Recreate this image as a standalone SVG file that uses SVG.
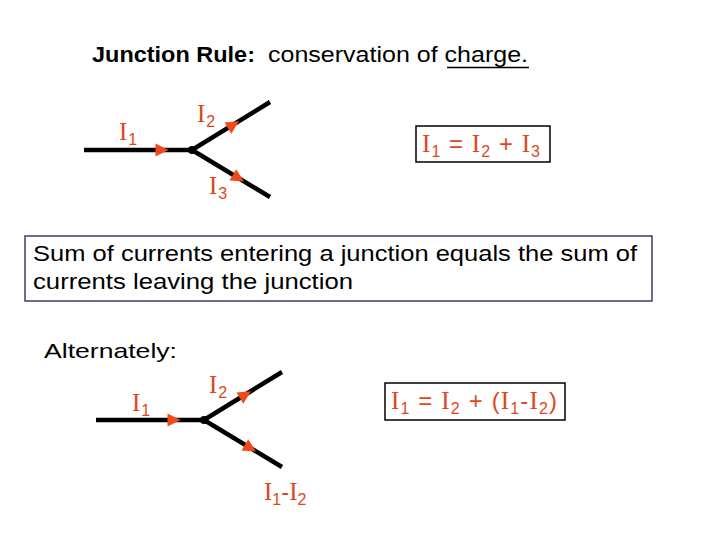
<svg xmlns="http://www.w3.org/2000/svg" xmlns:xlink="http://www.w3.org/1999/xlink" width="720" height="540" viewBox="0 0 720 540">
<style>
.t{font-family:"Liberation Sans",Arial,sans-serif;fill:#000}
.r{font-family:"Liberation Sans",Arial,sans-serif;fill:#E0461E;font-size:24px}
.i{font-family:"Liberation Serif","Times New Roman",serif;font-size:25px}
.s{font-size:16px}
.w{stroke:#000;stroke-width:4.5;fill:none;stroke-linecap:butt}
.a{fill:#F04A1A}
.box{fill:#fff;stroke:#000;stroke-width:1.5}
</style>
<defs>
<path id="arr" d="M7,0 L-6,-6.5 L-6,6.5 Z"/>
</defs>
<rect width="720" height="540" fill="#fff"/>

<g id="title">
<text class="t" x="92" y="62" font-size="22" font-weight="bold" textLength="163" lengthAdjust="spacingAndGlyphs">Junction Rule:</text>
<text class="t" x="268" y="62" font-size="22" textLength="260" lengthAdjust="spacingAndGlyphs">conservation of charge.</text>
<line x1="447" y1="67.5" x2="529" y2="67.5" stroke="#000" stroke-width="1.5"/>
</g>

<g id="connectors">
<g id="junction1">
<path class="w" d="M84,150 H192 L270,102 M192,150 L270,197"/>
<circle cx="192" cy="150" r="4" fill="#000"/>
<use xlink:href="#arr" class="a" transform="translate(161.5,150)"/>
<use xlink:href="#arr" class="a" transform="translate(233,125) rotate(-31.6)"/>
<use xlink:href="#arr" class="a" transform="translate(238,178) rotate(31.1)"/>
</g>
<g id="junction2">
<path class="w" d="M96,420 H204 L282,372 M204,420 L282,467"/>
<circle cx="204" cy="420" r="4" fill="#000"/>
<use xlink:href="#arr" class="a" transform="translate(173.5,420)"/>
<use xlink:href="#arr" class="a" transform="translate(245,395) rotate(-31.6)"/>
<use xlink:href="#arr" class="a" transform="translate(250,448) rotate(31.1)"/>
</g>
</g>

<g id="labels1">
<text class="r" x="119" y="140"><tspan class="i">I</tspan><tspan class="s" dx="1" dy="5">1</tspan></text>
<text class="r" x="197" y="122"><tspan class="i">I</tspan><tspan class="s" dx="1" dy="5">2</tspan></text>
<text class="r" x="209" y="194"><tspan class="i">I</tspan><tspan class="s" dx="1" dy="5">3</tspan></text>
</g>

<g id="eq1">
<rect class="box" x="416" y="126" width="134" height="36"/>
<text class="r" x="422" y="152" textLength="118" lengthAdjust="spacing"><tspan class="i">I</tspan><tspan class="s" dy="5">1</tspan><tspan dy="-5"> = </tspan><tspan class="i">I</tspan><tspan class="s" dy="5">2</tspan><tspan dy="-5"> + </tspan><tspan class="i">I</tspan><tspan class="s" dy="5">3</tspan></text>
</g>

<g id="statement">
<rect x="25" y="236" width="627" height="65" fill="#fff" stroke="#3C3C6E" stroke-width="1.5"/>
<text class="t" x="33" y="261" font-size="22" textLength="604" lengthAdjust="spacingAndGlyphs">Sum of currents entering a junction equals the sum of</text>
<text class="t" x="33" y="289" font-size="22" textLength="320" lengthAdjust="spacingAndGlyphs">currents leaving the junction</text>
</g>

<g id="alt">
<text class="t" x="44" y="358" font-size="21" textLength="133" lengthAdjust="spacingAndGlyphs">Alternately:</text>
</g>

<g id="labels2">
<text class="r" x="132" y="411"><tspan class="i">I</tspan><tspan class="s" dx="1" dy="5">1</tspan></text>
<text class="r" x="209" y="393"><tspan class="i">I</tspan><tspan class="s" dx="1" dy="5">2</tspan></text>
<text class="r" x="264" y="500"><tspan class="i">I</tspan><tspan class="s" dy="5">1</tspan><tspan dy="-5">-</tspan><tspan class="i">I</tspan><tspan class="s" dy="5">2</tspan></text>
</g>

<g id="eq2">
<rect class="box" x="385" y="383" width="180" height="37"/>
<text class="r" x="391" y="409" textLength="166" lengthAdjust="spacing"><tspan class="i">I</tspan><tspan class="s" dy="5">1</tspan><tspan dy="-5"> = </tspan><tspan class="i">I</tspan><tspan class="s" dy="5">2</tspan><tspan dy="-5"> + (</tspan><tspan class="i">I</tspan><tspan class="s" dy="5">1</tspan><tspan dy="-5">-</tspan><tspan class="i">I</tspan><tspan class="s" dy="5">2</tspan><tspan dy="-5">)</tspan></text>
</g>
</svg>
